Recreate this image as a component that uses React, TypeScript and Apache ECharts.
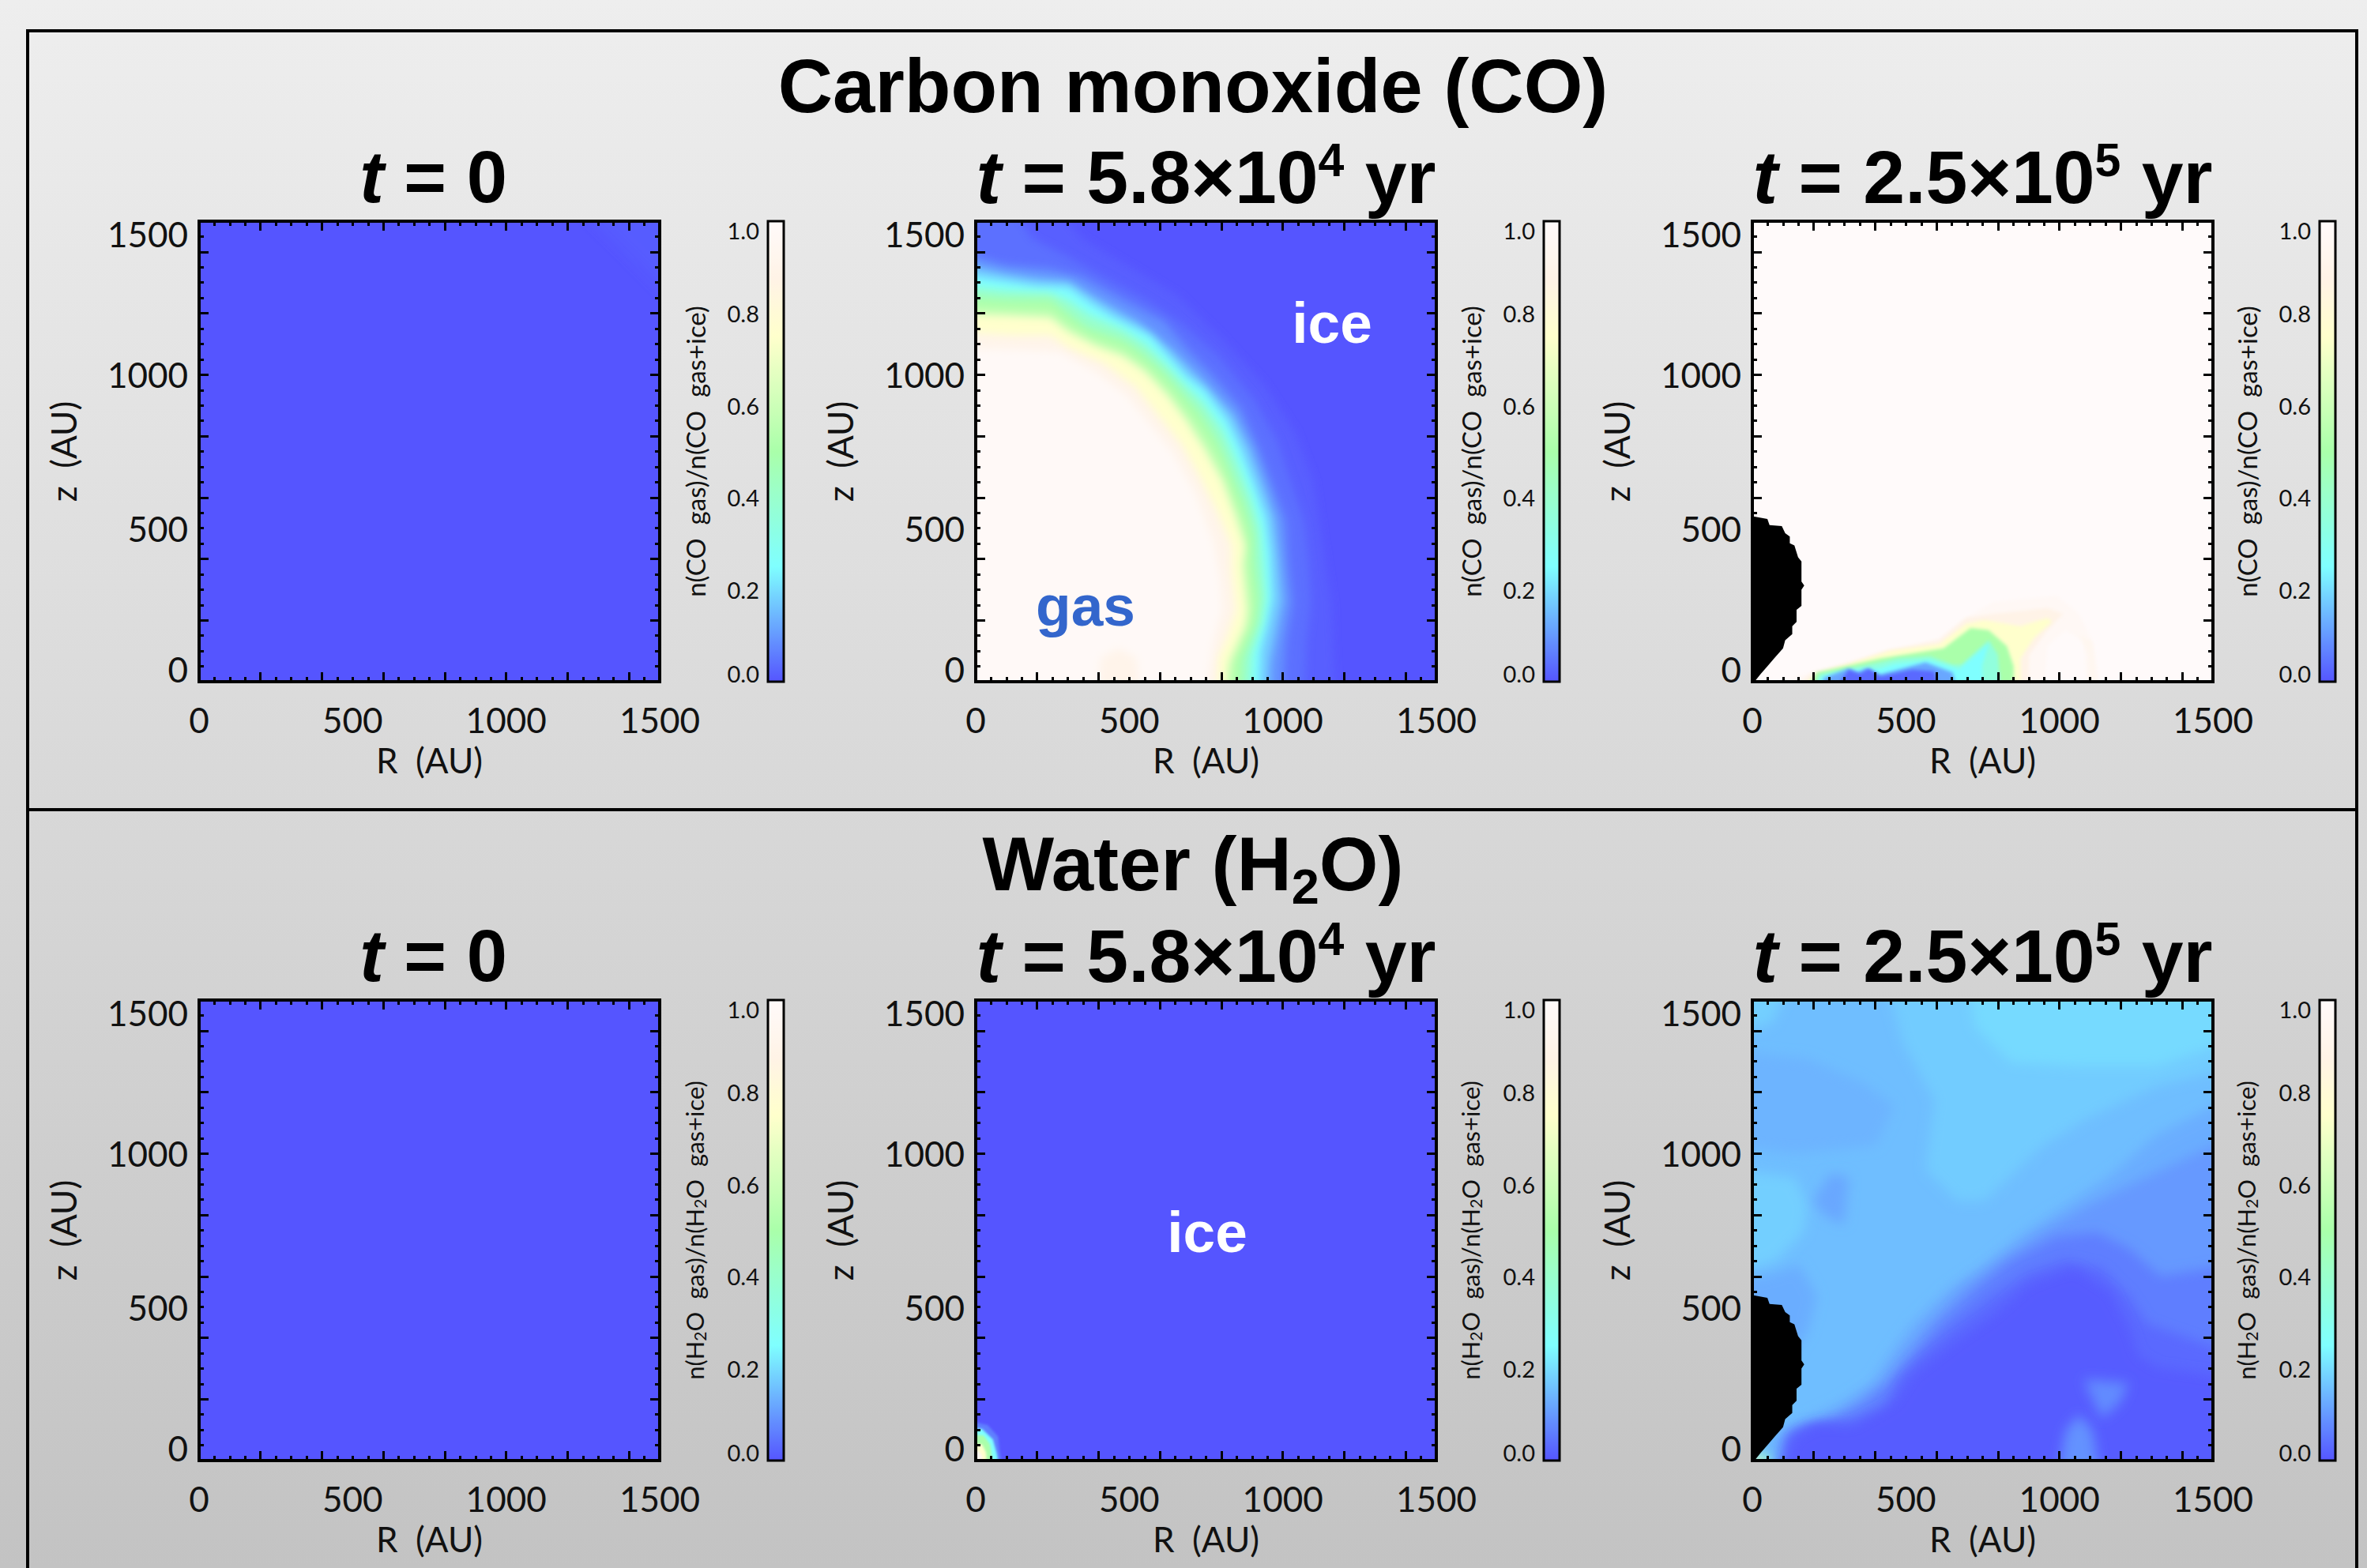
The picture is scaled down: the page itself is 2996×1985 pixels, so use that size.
import React, { useEffect, useRef } from "react";
import * as echarts from "echarts";

type Band = [number, number[][]];

const FULL = [[0, 0], [1500, 0], [1500, 1500], [0, 1500]];

// Colour ramp, equally spaced from 0 to 1
const rampColors = ["#5555ff", "#6aaaff", "#7fffff", "#95ffd5", "#aaffaa", "#d5ffbb", "#ffffcc", "#fff3e6", "#fffafa"];
const barTicks = [0, 0.2, 0.4, 0.6, 0.8, 1];

// Black region (same outline in both late panels): R, z in AU
const blobOutline = [[0, 539], [49, 530], [56, 510], [96, 507], [107, 484], [122, 473], [122, 451], [137, 444], [149, 405], [160, 392], [160, 326], [169, 313], [160, 300], [160, 247], [144, 234], [144, 195], [130, 181], [130, 155], [107, 135], [100, 109], [71, 76], [49, 50], [26, 24], [7, 0], [0, 0]];

// Each band: [gas fraction, iso-fraction outline in AU]
const coEarly: Band[] = [
  [0, FULL],
  [0.01, [[1208, 1500], [1500, 1500], [1500, 1210]]],
];

const coMiddle: Band[] = [
  [0, FULL],
  [0.015, [[0, 1500], [229, 1500], [347, 1443], [479, 1365], [656, 1259], [804, 1115], [937, 970], [1040, 812], [1099, 655], [1128, 457], [1158, 260], [1172, 0], [0, 0]]],
  [0.04, [[0, 1500], [96, 1500], [184, 1443], [288, 1391], [406, 1325], [553, 1246], [671, 1167], [789, 1062], [907, 918], [981, 786], [1025, 655], [1069, 523], [1084, 392], [1092, 260], [1077, 129], [1069, 0], [0, 0]]],
  [0.09, [[0, 1410], [96, 1358], [243, 1345], [347, 1319], [479, 1246], [612, 1174], [686, 1088], [774, 996], [863, 891], [922, 760], [966, 642], [1010, 523], [1018, 392], [1032, 260], [1010, 129], [996, 0], [0, 0]]],
  [0.17, [[0, 1370], [96, 1330], [199, 1315], [302, 1305], [400, 1245], [530, 1170], [640, 1080], [730, 990], [840, 870], [895, 760], [938, 642], [975, 530], [988, 405], [1000, 265], [980, 160], [960, 60], [955, 0], [0, 0]]],
  [0.25, [[0, 1332], [96, 1305], [199, 1288], [302, 1286], [376, 1233], [450, 1187], [568, 1128], [627, 1062], [686, 996], [745, 950], [819, 852], [863, 760], [907, 642], [944, 536], [959, 418], [966, 273], [951, 195], [929, 103], [922, 0], [0, 0]]],
  [0.4, [[0, 1295], [96, 1275], [240, 1268], [302, 1243], [370, 1195], [475, 1150], [553, 1100], [620, 1035], [680, 970], [740, 912], [805, 820], [850, 720], [893, 610], [925, 503], [935, 405], [945, 273], [934, 195], [900, 90], [893, 0], [0, 0]]],
  [0.5, [[0, 1259], [96, 1246], [243, 1246], [302, 1200], [361, 1154], [479, 1115], [538, 1075], [612, 1010], [671, 944], [730, 878], [789, 786], [833, 681], [878, 576], [907, 471], [907, 392], [922, 273], [914, 195], [870, 76], [863, 0], [0, 0]]],
  [0.55, [[0, 1230], [96, 1220], [243, 1216], [302, 1170], [375, 1125], [479, 1088], [545, 1042], [620, 970], [680, 898], [738, 820], [797, 720], [840, 608], [878, 510], [888, 385], [903, 254], [896, 188], [848, 70], [837, 0], [0, 0]]],
  [0.75, [[0, 1200], [96, 1194], [243, 1187], [302, 1141], [391, 1095], [479, 1062], [553, 1010], [627, 931], [686, 852], [745, 760], [804, 655], [848, 536], [878, 444], [870, 379], [885, 234], [878, 181], [826, 63], [811, 0], [0, 0]]],
  [0.9, [[0, 1141], [125, 1128], [243, 1128], [302, 1088], [420, 1036], [524, 957], [597, 865], [671, 773], [730, 668], [789, 550], [833, 444], [833, 365], [848, 234], [819, 142], [789, 76], [789, 0], [0, 0]]],
  [0.98, [[0, 1088], [140, 1082], [273, 1075], [391, 1010], [494, 931], [568, 839], [642, 747], [715, 615], [774, 457], [796, 339], [804, 234], [774, 129], [745, 0], [538, 0], [524, 76], [465, 109], [406, 76], [398, 0], [0, 0]]],
];

const coLate: Band[] = [
  [1, FULL],
  [0.97, [[19, 0], [137, 17], [284, 50], [461, 96], [608, 142], [696, 208], [785, 260], [991, 280], [1064, 221], [1108, 129], [1145, 0]]],
  [1, [[947, 0], [961, 116], [1020, 168], [1079, 129], [1094, 0]]],
  [0.94, [[1101, 0], [1094, 89], [1064, 155], [1108, 129], [1130, 0]]],
  [0.88, [[49, 0], [196, 30], [314, 63], [446, 105], [608, 135], [696, 208], [785, 221], [961, 240], [1013, 221], [961, 168], [902, 89], [895, 0]]],
  [0.75, [[107, 0], [203, 24], [314, 57], [446, 100], [608, 122], [696, 188], [755, 201], [873, 181], [961, 208], [976, 195], [917, 142], [873, 76], [873, 0]]],
  [0.5, [[137, 0], [210, 30], [314, 53], [417, 76], [520, 92], [623, 109], [711, 175], [770, 168], [829, 116], [851, 50], [851, 0]]],
  [0.35, [[181, 0], [218, 24], [314, 43], [417, 63], [475, 76], [578, 83], [652, 56], [682, 56], [770, 135], [799, 89], [814, 0]]],
  [0.25, [[196, 0], [225, 17], [328, 37], [417, 43], [461, 57], [578, 70], [660, 45], [672, 40], [770, 125], [748, 50], [755, 0]]],
  [0.12, [[210, 0], [233, 13], [314, 43], [343, 30], [372, 43], [417, 24], [564, 63], [652, 30], [682, 0]]],
  [0.03, [[225, 0], [314, 39], [350, 26], [380, 43], [417, 17], [520, 39], [593, 34], [623, 0]]],
];

const waterEarly: Band[] = [[0, FULL]];

const waterMiddle: Band[] = [
  [0, FULL],
  [0.06, [[0, 142], [39, 116], [73, 78], [77, 39], [97, 0], [0, 0]]],
  [0.25, [[0, 116], [21, 103], [56, 69], [69, 21], [86, 0], [0, 0]]],
  [0.5, [[0, 90], [26, 82], [47, 52], [52, 17], [60, 0], [0, 0]]],
  [0.75, [[0, 65], [21, 52], [34, 26], [39, 0], [0, 0]]],
  [0.95, [[0, 39], [11, 30], [21, 13], [21, 0], [0, 0]]],
];

const waterLate: Band[] = [
  [0.155, FULL],
  [0.175, [[431, 1500], [490, 1361], [593, 1174], [564, 948], [667, 845], [755, 845], [946, 1026], [1094, 1116], [1315, 1219], [1500, 1284], [1500, 1500]]],
  [0.195, [[696, 1500], [726, 1412], [843, 1296], [1064, 1284], [1315, 1284], [1500, 1374], [1500, 1500]]],
  [0.18, [[0, 1500], [137, 1500], [63, 1425], [0, 1387]]],
  [0.14, [[0, 1335], [181, 1309], [358, 1232], [461, 1155], [402, 1026], [137, 1000], [0, 1026]]],
  [0.18, [[0, 948], [137, 923], [181, 832], [166, 742], [78, 652], [0, 600]]],
  [0.12, [[196, 845], [255, 936], [314, 923], [299, 768], [240, 794]]],
  [0.13, [[0, 575], [78, 613], [152, 639], [210, 536], [181, 420], [100, 300], [0, 300]]],
  [0.13, [[56, 53], [151, 124], [290, 190], [387, 253], [450, 350], [520, 446], [640, 560], [755, 639], [880, 740], [1020, 832], [1167, 930], [1315, 1060], [1500, 1193], [1500, 0], [56, 0]]],
  [0.1, [[122, 104], [200, 110], [310, 170], [420, 253], [490, 350], [570, 446], [680, 560], [790, 640], [930, 740], [1090, 830], [1256, 910], [1500, 1064], [1500, 0], [70, 0]]],
  [0.06, [[137, 85], [240, 120], [360, 180], [450, 253], [540, 360], [610, 446], [730, 560], [840, 650], [990, 729], [1123, 742], [1226, 691], [1329, 601], [1500, 639], [1500, 0], [100, 0]]],
  [0.03, [[107, 79], [181, 117], [314, 124], [431, 162], [475, 265], [549, 343], [652, 433], [785, 536], [902, 613], [1020, 652], [1138, 626], [1226, 536], [1285, 446], [1500, 343], [1500, 0], [90, 0]]],
  [0.01, [[137, 72], [210, 117], [328, 111], [461, 188], [520, 278], [652, 381], [785, 472], [902, 575], [1050, 626], [1167, 549], [1226, 433], [1256, 343], [1315, 304], [1500, 265], [1500, 0], [90, 0]]],
  [0.09, [[991, 0], [1020, 98], [1064, 149], [1108, 98], [1138, 0]]],
  [0.08, [[1079, 265], [1226, 253], [1197, 188], [1138, 137], [1101, 214]]],
  [0.4, [[0, 0], [41, 33], [52, 14], [48, 0]]],
  [0.75, [[0, 0], [22, 23], [26, 0]]],
];

const bandSets = [coEarly, coMiddle, coLate, waterEarly, waterMiddle, waterLate];
const blurs = [16, 11, 4, 0, 3, 15];
const hasBlob = [false, false, true, false, false, true];
const timeLabels = ["{i|t} = 0", "{i|t} = 5.8×10{s|4} yr", "{i|t} = 2.5×10{s|5} yr"];
const sectionTitles = ["Carbon monoxide (CO)", "Water (H{d|2}O)"];
const barNames = ["n(CO  gas)/n(CO  gas+ice)", "n(H{d|2}O  gas)/n(H{d|2}O  gas+ice)"];

const SANS = "Lato, 'Noto Sans', sans-serif";
const BOLD = "'Liberation Sans', Arial, sans-serif";
const INK = "#111111";
const colX = [252, 1235, 2218];
const barX = [972, 1954, 2936];
const rowY = [280, 1266];
const SIZE = 583;
const BAR_W = 20;
const sectionTop = [55, 1029];
const timeFont = [92, 95, 95];
const timeTopOffset = [107, 112, 112];
const timeShift = [0, -5, -5];
const barNameFont = [33, 31];

function richFor(fs: number) {
  const base = { fontFamily: BOLD, fontWeight: "bold" as const, fontSize: fs, color: "#000" };
  return {
    i: { ...base, fontStyle: "italic" as const },
    s: { ...base, fontSize: Math.round(fs * 0.62), padding: [0, 0, 42, 0] },
    d: { ...base, fontSize: Math.round(fs * 0.66), padding: [56, 0, 0, 0] },
  };
}

const bleed = (v: number) => (v <= 0 ? -80 : v >= 1500 ? 1580 : v);

function buildOption() {
  const grid: any[] = [];
  const xAxis: any[] = [];
  const yAxis: any[] = [];
  const series: any[] = [];
  const visualMap: any[] = [];
  const title: any[] = [];

  const tickAxis = (gridIndex: number, position: string, interval: number, length: number) => ({
    gridIndex, position, type: "value", min: 0, max: 1500, interval, z: 10,
    axisLine: { show: false, onZero: false }, splitLine: { show: false }, axisLabel: { show: false },
    axisTick: { show: true, inside: true, length, lineStyle: { color: "#000", width: 3 } },
  });

  bandSets.forEach((bands, p) => {
    const col = p % 3;
    const row = Math.floor(p / 3);
    const gridIndex = grid.length;
    grid.push({
      left: colX[col], top: rowY[row], width: SIZE, height: SIZE, show: true, z: 10,
      backgroundColor: "transparent", borderColor: "#000", borderWidth: 4,
    });
    const xIndex = xAxis.length;
    const yIndex = yAxis.length;
    xAxis.push({
      gridIndex, position: "bottom", type: "value", min: 0, max: 1500, interval: 500, z: 10,
      axisLine: { show: false, onZero: false }, axisTick: { show: false }, splitLine: { show: false },
      axisLabel: { show: true, margin: 26, fontFamily: SANS, fontSize: 44, color: INK, formatter: (v: number) => String(v) },
      name: "R  (AU)", nameLocation: "middle", nameGap: 77,
      nameTextStyle: { fontFamily: SANS, fontSize: 44, color: INK },
    });
    yAxis.push({
      gridIndex, position: "left", type: "value", min: 0, max: 1500, interval: 500, z: 10,
      axisLine: { show: false, onZero: false }, axisTick: { show: false }, splitLine: { show: false },
      axisLabel: {
        show: true, margin: 14, fontFamily: SANS, fontSize: 44, color: INK, lineHeight: 32,
        formatter: (v: number) => String(v),
        verticalAlignMinLabel: "bottom", verticalAlignMaxLabel: "top",
      },
      name: "z  (AU)", nameLocation: "middle", nameRotate: 90, nameGap: 150,
      nameTextStyle: { fontFamily: SANS, fontSize: 44, color: INK },
    });
    xAxis.push(tickAxis(gridIndex, "bottom", 50, 6), tickAxis(gridIndex, "bottom", 200, 12), tickAxis(gridIndex, "top", 50, 6), tickAxis(gridIndex, "top", 200, 12));
    yAxis.push(tickAxis(gridIndex, "left", 50, 6), tickAxis(gridIndex, "left", 200, 12), tickAxis(gridIndex, "right", 50, 6), tickAxis(gridIndex, "right", 200, 12));

    const blur = blurs[p];
    series.push({
      type: "custom", coordinateSystem: "cartesian2d", xAxisIndex: xIndex, yAxisIndex: yIndex,
      clip: true, silent: true, z: 2,
      encode: { x: 1, y: 2 },
      data: bands.map((b) => [b[0], b[1][0][0], b[1][0][1]]),
      renderItem: (params: any, api: any) => {
        const color = api.visual("color");
        return {
          type: "polygon",
          shape: { points: bands[params.dataIndex][1].map((pt) => api.coord([bleed(pt[0]), bleed(pt[1])])) },
          style: params.dataIndex === 0 ? { fill: color } : { fill: color, shadowBlur: blur, shadowColor: color },
        };
      },
    });

    // Colour bar
    const barGrid = grid.length;
    grid.push({
      left: barX[col], top: rowY[row], width: BAR_W, height: SIZE, show: true, z: 10,
      backgroundColor: "transparent", borderColor: "#000", borderWidth: 3,
    });
    xAxis.push({ gridIndex: barGrid, show: false, type: "value", min: 0, max: 1 });
    yAxis.push({
      gridIndex: barGrid, position: "left", type: "value", min: 0, max: 1, interval: 0.2, z: 10,
      axisLine: { show: false, onZero: false }, axisTick: { show: false }, splitLine: { show: false },
      axisLabel: {
        show: true, margin: 11, fontFamily: SANS, fontSize: 29, color: INK, lineHeight: 22,
        formatter: (v: number) => v.toFixed(1),
        customValues: barTicks,
        verticalAlignMinLabel: "bottom", verticalAlignMaxLabel: "top",
      },
      name: barNames[row], nameLocation: "middle", nameRotate: 90, nameGap: 76,
      nameTextStyle: {
        fontFamily: SANS, fontSize: barNameFont[row], color: INK,
        rich: { d: { fontFamily: SANS, fontSize: 21, color: INK, padding: [14, 0, 0, 0] } },
      },
    });
    visualMap.push({
      type: "continuous", min: 0, max: 1, dimension: 0, seriesIndex: p, show: true,
      left: barX[col], top: rowY[row], itemWidth: BAR_W, itemHeight: SIZE, padding: 0,
      calculable: false, hoverLink: false, inRange: { color: rampColors }, outOfRange: { color: "#5555ff" },
    });

    title.push({
      text: timeLabels[col], left: colX[col] + SIZE / 2 + timeShift[col], top: rowY[row] - timeTopOffset[col], textAlign: "center",
      textStyle: { fontFamily: BOLD, fontWeight: "bold", fontSize: timeFont[col], color: "#000", rich: richFor(timeFont[col]) },
    });
  });

  hasBlob.forEach((flag, p) => {
    if (!flag) return;
    const first = series[p];
    series.push({
      type: "custom", coordinateSystem: "cartesian2d",
      xAxisIndex: first.xAxisIndex, yAxisIndex: first.yAxisIndex, clip: true, silent: true, z: 3,
      encode: { x: 0, y: 1 }, data: blobOutline,
      renderItem: (params: any, api: any) =>
        params.dataIndex === 0
          ? { type: "polygon", shape: { points: blobOutline.map((pt) => api.coord(pt)) }, style: { fill: "#000" } }
          : null,
    });
  });

  sectionTitles.forEach((text, r) => {
    title.push({
      text, left: 1505, top: sectionTop[r], textAlign: "center",
      textStyle: { fontFamily: BOLD, fontWeight: "bold", fontSize: 96, color: "#000", rich: richFor(96) },
    });
  });

  const word = (text: string, x: number, y: number, fill: string) => ({
    type: "text", x, y, z: 20,
    style: { text, fill, fontFamily: BOLD, fontWeight: "bold", fontSize: 73, align: "center", verticalAlign: "middle" },
  });
  const rule = (x1: number, y1: number, x2: number, y2: number) => ({
    type: "line", z: 1, shape: { x1, y1, x2, y2 }, style: { stroke: "#000", lineWidth: 4 },
  });

  return {
    animation: false,
    backgroundColor: new echarts.graphic.LinearGradient(0, 0, 0, 1, [
      { offset: 0, color: "#eeeeee" },
      { offset: 1, color: "#c3c3c3" },
    ]),
    title, grid, xAxis, yAxis, series, visualMap,
    graphic: [
      rule(35, 39, 2983, 39), rule(35, 37, 35, 1985), rule(2983, 37, 2983, 1985), rule(35, 1025, 2983, 1025),
      word("ice", 1686, 408, "#ffffff"),
      word("gas", 1374, 766, "#3366cc"),
      word("ice", 1528, 1559, "#ffffff"),
    ],
  };
}

// The map is a smooth field: the fill of each contour is softened, as in the source image.
function softenContours(root: HTMLElement) {
  root.querySelectorAll("feDropShadow").forEach((node) => {
    const std = node.getAttribute("stdDeviation") || "0";
    const filter = node.parentNode as Element;
    const blur = document.createElementNS("http://www.w3.org/2000/svg", "feGaussianBlur");
    blur.setAttribute("stdDeviation", std);
    filter.setAttribute("x", "-300%");
    filter.setAttribute("y", "-300%");
    filter.setAttribute("width", "700%");
    filter.setAttribute("height", "700%");
    filter.replaceChild(blur, node);
  });
}

export default function App() {
  const ref = useRef<HTMLDivElement>(null);
  useEffect(() => {
    document.body.style.margin = "0";
    const chart = echarts.init(ref.current!, undefined, { renderer: "svg" });
    chart.setOption(buildOption());
    softenContours(ref.current!);
    const soften = () => softenContours(ref.current!);
    chart.on("finished", soften);
    return () => chart.dispose();
  }, []);
  return <div ref={ref} style={{ width: 2996, height: 1985 }} />;
}
